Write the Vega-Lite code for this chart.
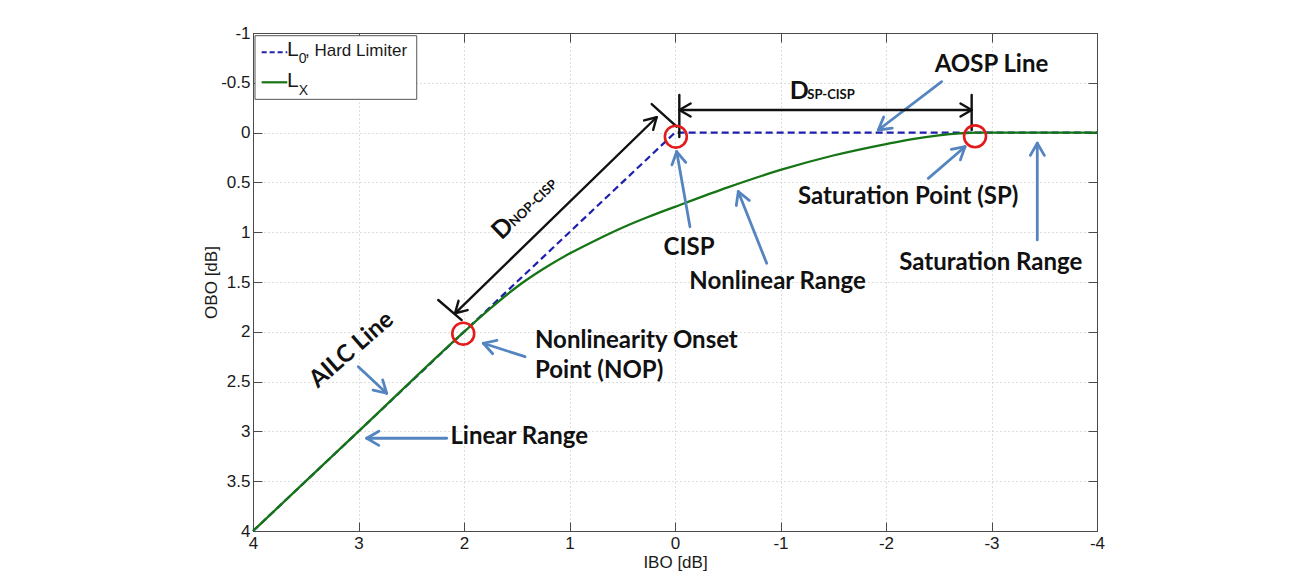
{
  "$schema": "https://vega.github.io/schema/vega-lite/v6.json",
  "width": 844,
  "height": 498,
  "autosize": "none",
  "padding": {"left": 253, "top": 33, "right": 194, "bottom": 47},
  "background": "white",
  "config": {
    "view": {"stroke": "#4a4a4a", "strokeWidth": 1},
    "axis": {
      "labelFont": "Liberation Sans", "titleFont": "Liberation Sans",
      "labelFontSize": 17, "titleFontSize": 17, "titleFontWeight": "normal",
      "labelColor": "#1a1a1a", "titleColor": "#1a1a1a",
      "domainColor": "#4a4a4a", "tickColor": "#4a4a4a", "tickSize": -9,
      "gridColor": "#bcbcbc", "gridDash": [1, 3], "gridWidth": 1,
      "labelFlush": false, "labelOverlap": false, "labelBound": false
    },
    "text": {"font": "Lato", "fontWeight": "bold", "fontSize": 24, "color": "#111111"}
  },
  "datasets": {
    "l0": [{"x": 4, "y": 4}, {"x": 0, "y": 0}, {"x": -4, "y": 0}],
    "lx": [
      {"x": 4, "y": 4}, {"x": 3, "y": 3}, {"x": 2, "y": 2}, {"x": 1.75, "y": 1.765},
      {"x": 1.5, "y": 1.55}, {"x": 1.25, "y": 1.37}, {"x": 1, "y": 1.215}, {"x": 0.75, "y": 1.08},
      {"x": 0.5, "y": 0.955}, {"x": 0.25, "y": 0.845}, {"x": 0, "y": 0.745}, {"x": -0.5, "y": 0.55},
      {"x": -1, "y": 0.375}, {"x": -1.5, "y": 0.23}, {"x": -2, "y": 0.115}, {"x": -2.25, "y": 0.065},
      {"x": -2.5, "y": 0.028}, {"x": -2.7, "y": 0.008}, {"x": -2.85, "y": 0}, {"x": -4, "y": 0}
    ],
    "circles": [{"x": 2.007, "y": 2.019}, {"x": -0.008, "y": 0.041}, {"x": -2.844, "y": 0.037}],
    "segs": [
      {"c": "blue", "x": -0.142, "y": 0.945, "x2": -0.016, "y2": 0.192},
      {"c": "blue", "x": -0.016, "y": 0.192, "x2": 0.029, "y2": 0.324},
      {"c": "blue", "x": -0.016, "y": 0.192, "x2": -0.102, "y2": 0.299},
      {"c": "blue", "x": -0.869, "y": 1.312, "x2": -0.6, "y2": 0.593},
      {"c": "blue", "x": -0.6, "y": 0.593, "x2": -0.581, "y2": 0.732},
      {"c": "blue", "x": -0.6, "y": 0.593, "x2": -0.704, "y2": 0.681},
      {"c": "blue", "x": -2.401, "y": 0.459, "x2": -2.749, "y2": 0.142},
      {"c": "blue", "x": -2.749, "y": 0.142, "x2": -2.619, "y2": 0.168},
      {"c": "blue", "x": -2.749, "y": 0.142, "x2": -2.705, "y2": 0.274},
      {"c": "blue", "x": -3.434, "y": 1.078, "x2": -3.434, "y2": 0.107},
      {"c": "blue", "x": -3.434, "y": 0.107, "x2": -3.368, "y2": 0.229},
      {"c": "blue", "x": -3.434, "y": 0.107, "x2": -3.501, "y2": 0.229},
      {"c": "blue", "x": -2.528, "y": -0.511, "x2": -1.927, "y2": -0.026},
      {"c": "blue", "x": -1.927, "y": -0.026, "x2": -2.059, "y2": -0.044},
      {"c": "blue", "x": -1.927, "y": -0.026, "x2": -1.978, "y2": -0.156},
      {"c": "blue", "x": 1.422, "y": 2.25, "x2": 1.817, "y2": 2.115},
      {"c": "blue", "x": 1.817, "y": 2.115, "x2": 1.728, "y2": 2.22},
      {"c": "blue", "x": 1.817, "y": 2.115, "x2": 1.687, "y2": 2.086},
      {"c": "blue", "x": 3.002, "y": 2.35, "x2": 2.733, "y2": 2.617},
      {"c": "blue", "x": 2.733, "y": 2.617, "x2": 2.771, "y2": 2.483},
      {"c": "blue", "x": 2.733, "y": 2.617, "x2": 2.862, "y2": 2.586},
      {"c": "blue", "x": 2.164, "y": 3.069, "x2": 2.922, "y2": 3.069},
      {"c": "blue", "x": 2.922, "y": 3.069, "x2": 2.807, "y2": 3.14},
      {"c": "blue", "x": 2.922, "y": 3.069, "x2": 2.807, "y2": 2.999},
      {"c": "black", "x": -0.041, "y": -0.227, "x2": -2.812, "y2": -0.227},
      {"c": "black", "x": -0.041, "y": -0.227, "x2": -0.148, "y2": -0.162},
      {"c": "black", "x": -0.041, "y": -0.227, "x2": -0.148, "y2": -0.292},
      {"c": "black", "x": -2.812, "y": -0.227, "x2": -2.706, "y2": -0.292},
      {"c": "black", "x": -2.812, "y": -0.227, "x2": -2.706, "y2": -0.162},
      {"c": "black", "x": -0.041, "y": -0.378, "x2": -0.041, "y2": 0.044},
      {"c": "black", "x": -2.812, "y": -0.378, "x2": -2.812, "y2": -0.026},
      {"c": "black", "x": 2.085, "y": 1.814, "x2": 0.174, "y2": -0.154},
      {"c": "black", "x": 0.174, "y": -0.154, "x2": 0.293, "y2": -0.122},
      {"c": "black", "x": 0.174, "y": -0.154, "x2": 0.207, "y2": -0.028},
      {"c": "black", "x": 2.085, "y": 1.814, "x2": 1.966, "y2": 1.782},
      {"c": "black", "x": 2.085, "y": 1.814, "x2": 2.052, "y2": 1.689},
      {"c": "black", "x": 0.221, "y": -0.287, "x2": -0.016, "y2": -0.059},
      {"c": "black", "x": 2.244, "y": 1.681, "x2": 2.022, "y2": 1.882}
    ],
    "labels": [
      {"k": "c", "x": -3.0, "y": -0.679, "text": "AOSP Line"},
      {"k": "c", "x": -0.133, "y": 1.154, "text": "CISP"},
      {"k": "c", "x": -0.972, "y": 1.497, "text": "Nonlinear Range"},
      {"k": "c", "x": -2.211, "y": 0.643, "text": "Saturation Point (SP)"},
      {"k": "c", "x": -2.993, "y": 1.312, "text": "Saturation Range"},
      {"k": "c", "x": 1.477, "y": 3.053, "text": "Linear Range"},
      {"k": "l", "x": 1.327, "y": 2.092, "text": "Nonlinearity Onset"},
      {"k": "l", "x": 1.327, "y": 2.394, "text": "Point (NOP)"},
      {"k": "ailc", "x": 3.065, "y": 2.183, "text": "AILC Line"},
      {"k": "D", "x": -1.177, "y": -0.413, "text": "D"},
      {"k": "ds", "x": -1.479, "y": -0.378, "text": "SP-CISP"},
      {"k": "DR", "x": 1.633, "y": 0.961, "text": "D"},
      {"k": "dsR", "x": 1.343, "y": 0.71, "text": "NOP-CISP"}
    ],
    "legbox": [{"x": 3.981, "x2": 2.448, "y": -0.973, "y2": -0.334}],
    "legline": [
      {"s": "L0", "x": 3.918, "x2": 3.675, "y": -0.806},
      {"s": "LX", "x": 3.918, "x2": 3.675, "y": -0.505}
    ],
    "legtext": [
      {"k": "big", "x": 3.678, "y": -0.765, "text": "L"},
      {"k": "big", "x": 3.678, "y": -0.461, "text": "L"},
      {"k": "sub", "x": 3.566, "y": -0.696, "text": "0"},
      {"k": "sub", "x": 3.566, "y": -0.377, "text": "X"},
      {"k": "txt", "x": 3.507, "y": -0.765, "text": ", Hard Limiter"}
    ]
  },
  "encoding": {
    "x": {
      "field": "x", "type": "quantitative",
      "scale": {"domain": [-4, 4], "reverse": true, "nice": false, "zero": false},
      "axis": {"orient": "bottom", "title": "IBO [dB]", "values": [4, 3, 2, 1, 0, -1, -2, -3, -4],
               "labelExpr": "'' + datum.value", "labelPadding": 13, "titlePadding": 3, "grid": true}
    },
    "y": {
      "field": "y", "type": "quantitative",
      "scale": {"domain": [-1, 4], "reverse": true, "nice": false, "zero": false},
      "axis": {"orient": "left", "title": "OBO [dB]", "values": [-1, -0.5, 0, 0.5, 1, 1.5, 2, 2.5, 3, 3.5, 4],
               "labelExpr": "'' + datum.value", "labelPadding": 12, "titlePadding": 0, "grid": true}
    }
  },
  "layer": [
    {
      "layer": [
        {"data": {"name": "l0"}, "mark": {"type": "line", "color": "#1e1eb0", "strokeWidth": 2.2, "strokeDash": [7, 4]}},
        {"data": {"name": "lx"}, "mark": {"type": "line", "color": "#157515", "strokeWidth": 2.3, "interpolate": "monotone"}},
        {"data": {"name": "segs"}, "transform": [{"filter": "datum.c == 'blue'"}],
         "mark": {"type": "rule", "color": "#5585c0", "strokeWidth": 2.8, "strokeCap": "round"},
         "encoding": {"x2": {"field": "x2"}, "y2": {"field": "y2"}}},
        {"data": {"name": "segs"}, "transform": [{"filter": "datum.c == 'black'"}],
         "mark": {"type": "rule", "color": "#111111", "strokeWidth": 2.4, "strokeCap": "round"},
         "encoding": {"x2": {"field": "x2"}, "y2": {"field": "y2"}}},
        {"data": {"name": "circles"}, "mark": {"type": "point", "shape": "circle", "size": 480, "filled": false, "stroke": "#e31b1b", "strokeWidth": 2.6, "opacity": 1}},
        {"data": {"name": "legbox"}, "mark": {"type": "rect", "fill": "white", "stroke": "#555555", "strokeWidth": 1},
         "encoding": {"x2": {"field": "x2"}, "y2": {"field": "y2"}}},
        {"data": {"name": "legline"}, "transform": [{"filter": "datum.s == 'L0'"}],
         "mark": {"type": "rule", "color": "#1e1eb0", "strokeWidth": 2, "strokeDash": [5, 3]},
         "encoding": {"x2": {"field": "x2"}}},
        {"data": {"name": "legline"}, "transform": [{"filter": "datum.s == 'LX'"}],
         "mark": {"type": "rule", "color": "#157515", "strokeWidth": 2.2},
         "encoding": {"x2": {"field": "x2"}}},
        {"data": {"name": "legtext"}, "transform": [{"filter": "datum.k == 'big'"}],
         "mark": {"type": "text", "font": "Liberation Sans", "fontWeight": "normal", "fontSize": 21, "align": "left", "baseline": "alphabetic", "color": "#1a1a1a"},
         "encoding": {"text": {"field": "text"}}},
        {"data": {"name": "legtext"}, "transform": [{"filter": "datum.k == 'sub'"}],
         "mark": {"type": "text", "font": "Liberation Sans", "fontWeight": "normal", "fontSize": 14, "align": "left", "baseline": "alphabetic", "color": "#1a1a1a"},
         "encoding": {"text": {"field": "text"}}},
        {"data": {"name": "legtext"}, "transform": [{"filter": "datum.k == 'txt'"}],
         "mark": {"type": "text", "font": "Liberation Sans", "fontWeight": "normal", "fontSize": 17, "align": "left", "baseline": "alphabetic", "color": "#1a1a1a"},
         "encoding": {"text": {"field": "text"}}},
        {"data": {"name": "labels"}, "transform": [{"filter": "datum.k == 'c'"}],
         "mark": {"type": "text", "align": "center", "baseline": "middle"},
         "encoding": {"text": {"field": "text"}}},
        {"data": {"name": "labels"}, "transform": [{"filter": "datum.k == 'l'"}],
         "mark": {"type": "text", "align": "left", "baseline": "middle"},
         "encoding": {"text": {"field": "text"}}},
        {"data": {"name": "labels"}, "transform": [{"filter": "datum.k == 'ailc'"}],
         "mark": {"type": "text", "align": "center", "baseline": "middle", "angle": 319},
         "encoding": {"text": {"field": "text"}}},
        {"data": {"name": "labels"}, "transform": [{"filter": "datum.k == 'D'"}],
         "mark": {"type": "text", "align": "center", "baseline": "middle", "fontSize": 25},
         "encoding": {"text": {"field": "text"}}},
        {"data": {"name": "labels"}, "transform": [{"filter": "datum.k == 'ds'"}],
         "mark": {"type": "text", "align": "center", "baseline": "middle", "fontSize": 13},
         "encoding": {"text": {"field": "text"}}},
        {"data": {"name": "labels"}, "transform": [{"filter": "datum.k == 'DR'"}],
         "mark": {"type": "text", "align": "center", "baseline": "middle", "fontSize": 25, "angle": 316},
         "encoding": {"text": {"field": "text"}}},
        {"data": {"name": "labels"}, "transform": [{"filter": "datum.k == 'dsR'"}],
         "mark": {"type": "text", "align": "center", "baseline": "middle", "fontSize": 13, "angle": 316},
         "encoding": {"text": {"field": "text"}}}
      ]
    },
    {
      "data": {"name": "circles"},
      "mark": {"type": "point", "opacity": 0},
      "encoding": {
        "x": {"field": "x", "type": "quantitative",
              "scale": {"domain": [-4, 4], "reverse": true, "nice": false, "zero": false},
              "axis": {"orient": "top", "title": null, "labels": false, "grid": false, "values": [4, 3, 2, 1, 0, -1, -2, -3, -4]}},
        "y": {"field": "y", "type": "quantitative",
              "scale": {"domain": [-1, 4], "reverse": true, "nice": false, "zero": false},
              "axis": {"orient": "right", "title": null, "labels": false, "grid": false, "values": [-1, -0.5, 0, 0.5, 1, 1.5, 2, 2.5, 3, 3.5, 4]}}
      }
    }
  ],
  "resolve": {"axis": {"x": "independent", "y": "independent"}}
}
